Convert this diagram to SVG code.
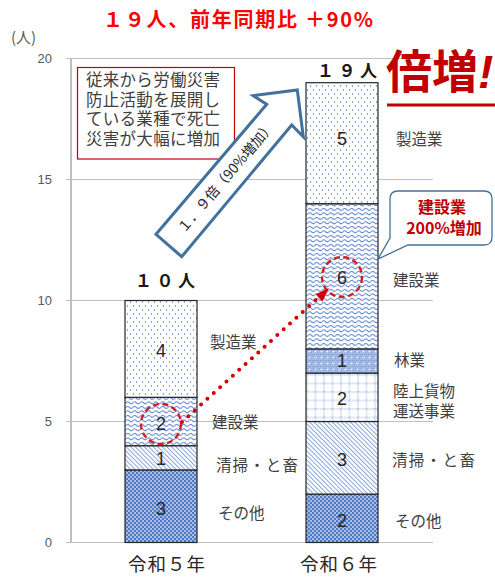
<svg xmlns="http://www.w3.org/2000/svg" width="495" height="578" viewBox="0 0 495 578">
<style>
.jp{font-family:"Noto Sans CJK JP","Noto Sans",sans-serif}
.lab{font-family:"Noto Sans CJK JP",sans-serif;font-size:15.5px;fill:#404040}
.note{font-family:"Noto Sans CJK JP",sans-serif;font-size:16.5px;fill:#404040}
.num{font-family:"Liberation Sans",Arial,sans-serif;font-size:18px;fill:#262626;text-anchor:middle}
.ax{font-family:"Liberation Sans",Arial,sans-serif;font-size:13px;fill:#595959;text-anchor:end}
.grid{stroke:#bfbfbf;stroke-width:1.2}
.seg{stroke:#262626;stroke-width:1.2}
.circ{fill:none;stroke:#d42020;stroke-width:2.4;stroke-dasharray:6 3.5}
</style>
<defs>
<pattern id="pDots" width="6" height="8" patternUnits="userSpaceOnUse"><rect width="6" height="8" fill="#fff"/><circle cx="1.5" cy="2" r="0.7" fill="#4472c4"/><circle cx="4.5" cy="6" r="0.7" fill="#4472c4"/></pattern>
<pattern id="pWave" width="7" height="4.5" patternUnits="userSpaceOnUse"><rect width="7" height="4.5" fill="#fff"/><path d="M0 2.3 Q1.75 0.3 3.5 2.3 T7 2.3" stroke="#4f7ac8" stroke-width="1" fill="none"/></pattern>
<pattern id="pDiag" width="3.2" height="3.2" patternUnits="userSpaceOnUse" patternTransform="rotate(-45)"><rect width="3.2" height="3.2" fill="#fff"/><line x1="0.5" y1="0" x2="0.5" y2="3.2" stroke="#7c9dd6" stroke-width="0.9"/></pattern>
<pattern id="pChk" width="4" height="4" patternUnits="userSpaceOnUse"><rect width="4" height="4" fill="#a7bde4"/><rect width="2" height="2" fill="#4f79c4"/><rect x="2" y="2" width="2" height="2" fill="#4f79c4"/></pattern>
<pattern id="pForest" width="6" height="6" patternUnits="userSpaceOnUse"><rect width="6" height="6" fill="#a3bbe4"/><rect width="1" height="1" fill="#7c9dd6"/><rect x="2" width="1" height="1" fill="#7c9dd6"/><rect x="4" width="1" height="1" fill="#7c9dd6"/><rect x="1" y="2" width="1" height="1" fill="#7c9dd6"/><rect x="5" y="4" width="1" height="1" fill="#7c9dd6"/><circle cx="3.5" cy="3.5" r="0.8" fill="#fff"/></pattern>
<pattern id="pGrid" width="8.5" height="8.5" patternUnits="userSpaceOnUse"><rect width="8.5" height="8.5" fill="#fff"/><line x1="1" y1="0" x2="1" y2="8.5" stroke="#7c9dd6" stroke-width="0.9" stroke-dasharray="1 1"/><line x1="0" y1="1" x2="8.5" y2="1" stroke="#7c9dd6" stroke-width="0.9" stroke-dasharray="1 1"/></pattern>
</defs>

<g id="title">
<text class="jp" x="103" y="27" font-size="20" font-weight="bold" fill="#ff0000" textLength="270" lengthAdjust="spacing">１９人、前年同期比 ＋90%</text>
</g>

<g id="axis">
<text class="jp" x="11" y="43" font-size="15" fill="#595959">(人)</text>
<line class="grid" x1="66" y1="58.5" x2="433" y2="58.5"/>
<line class="grid" x1="66" y1="179.5" x2="433" y2="179.5"/>
<line class="grid" x1="66" y1="300.5" x2="433" y2="300.5"/>
<line class="grid" x1="66" y1="421.5" x2="433" y2="421.5"/>
<line class="grid" x1="66" y1="542.5" x2="433" y2="542.5"/>
<line x1="71" y1="58.5" x2="71" y2="542.5" stroke="#bfbfbf" stroke-width="2"/>
<text class="ax" x="52" y="63">20</text>
<text class="ax" x="52" y="184">15</text>
<text class="ax" x="52" y="305">10</text>
<text class="ax" x="52" y="426">5</text>
<text class="ax" x="52" y="547">0</text>
</g>

<g id="headline">
<text class="jp" x="386" y="88" font-size="46" font-weight="bold" fill="#c00000">倍増<tspan font-family="Liberation Sans" font-style="italic">!</tspan></text>
<line x1="387" y1="105" x2="495" y2="105" stroke="#c00000" stroke-width="3"/>
</g>

<g id="note">
<rect x="77.5" y="67.5" width="157" height="91.5" fill="#fff" stroke="#c00000" stroke-width="1.2"/>
<text class="note" x="86" y="86" textLength="134">従来から労働災害</text>
<text class="note" x="86" y="105.5" textLength="134">防止活動を展開し</text>
<text class="note" x="86" y="125" textLength="134">ている業種で死亡</text>
<text class="note" x="86" y="145" textLength="134">災害が大幅に増加</text>
</g>

<g id="bar-r5">
<rect x="125" y="469.9" width="72" height="72.6" fill="url(#pChk)" class="seg"/>
<rect x="125" y="445.7" width="72" height="24.2" fill="url(#pDiag)" class="seg"/>
<rect x="125" y="397.3" width="72" height="48.4" fill="url(#pWave)" class="seg"/>
<rect x="125" y="300.5" width="72" height="96.8" fill="url(#pDots)" class="seg"/>
<text class="num" x="161" y="357">4</text>
<text class="num" x="161" y="430">2</text>
<text class="num" x="161" y="465">1</text>
<text class="num" x="161" y="515">3</text>
<text class="jp" x="135" y="287" font-size="17" font-weight="bold" fill="#1a1a1a" textLength="60">１０人</text>
<text class="jp" x="128" y="571" font-size="18.5" fill="#262626" textLength="77">令和５年</text>
<text class="lab" x="210" y="348">製造業</text>
<text class="lab" x="212" y="428">建設業</text>
<text class="lab" x="216" y="471" textLength="82">清掃・と畜</text>
<text class="lab" x="218" y="519">その他</text>
</g>

<g id="bar-r6">
<rect x="306" y="494.1" width="72" height="48.4" fill="url(#pChk)" class="seg"/>
<rect x="306" y="421.5" width="72" height="72.6" fill="url(#pDiag)" class="seg"/>
<rect x="306" y="373.1" width="72" height="48.4" fill="url(#pGrid)" class="seg"/>
<rect x="306" y="348.9" width="72" height="24.2" fill="url(#pForest)" class="seg"/>
<rect x="306" y="203.7" width="72" height="145.2" fill="url(#pWave)" class="seg"/>
<rect x="306" y="82.7" width="72" height="121" fill="url(#pDots)" class="seg"/>
<text class="num" x="342" y="145">5</text>
<text class="num" x="342" y="284">6</text>
<text class="num" x="342" y="367">1</text>
<text class="num" x="342" y="405">2</text>
<text class="num" x="342" y="466">3</text>
<text class="num" x="342" y="527">2</text>
<text class="jp" x="317" y="77" font-size="17" font-weight="bold" fill="#1a1a1a" textLength="60">１９人</text>
<text class="jp" x="300" y="571" font-size="18.5" fill="#262626" textLength="77">令和６年</text>
<text class="lab" x="396" y="145">製造業</text>
<text class="lab" x="393" y="286">建設業</text>
<text class="lab" x="394" y="366">林業</text>
<text class="lab" x="393" y="397">陸上貨物</text>
<text class="lab" x="393" y="417">運送事業</text>
<text class="lab" x="392" y="466" textLength="83">清掃・と畜</text>
<text class="lab" x="395" y="527">その他</text>
</g>

<g id="connectors">
<polygon points="156,234.3 266.7,104.3 253.3,95.7 297.3,90 303.3,136.7 291.7,125 181.7,256.7" fill="#fff" stroke="#41719c" stroke-width="3" stroke-linejoin="miter"/>
<text class="jp" x="0" y="5" font-size="14" fill="#262626" text-anchor="middle" transform="translate(226,177) rotate(-49.5)">１．９倍（90%増加）</text>
<circle class="circ" cx="161" cy="424" r="20"/>
<circle class="circ" cx="342" cy="277" r="20"/>
<line x1="182" y1="422" x2="318" y2="298" stroke="#d40000" stroke-width="4" stroke-linecap="round" stroke-dasharray="0 8.6"/>
<polygon points="329,288 322.4,301.7 315.8,294.3" fill="#d40000"/>
</g>

<g id="callout">
<path d="M398 191 H484 Q492 191 492 199 V237 Q492 245 484 245 H408 L378 259 L390 238 V199 Q390 191 398 191 Z" fill="#fff" stroke="#41719c" stroke-width="1.3"/>
<text class="jp" x="442" y="213" font-size="16" font-weight="bold" fill="#c00000" text-anchor="middle">建設業</text>
<text class="jp" x="444" y="234" font-size="16" font-weight="bold" fill="#c00000" text-anchor="middle">200%増加</text>
</g>
</svg>
